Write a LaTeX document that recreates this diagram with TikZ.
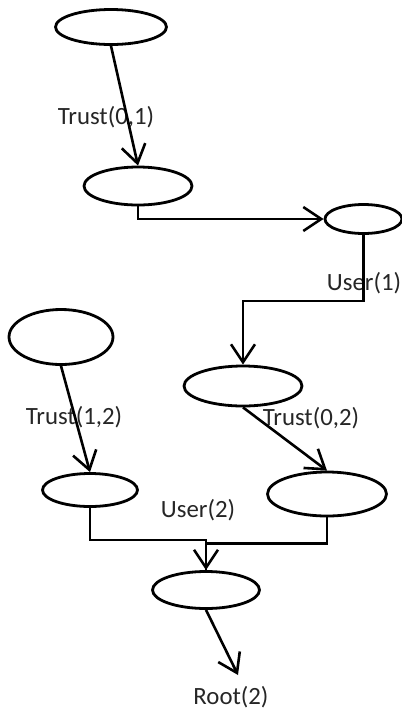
\documentclass[tikz,border=0pt]{standalone}
\usepackage{fontspec}
\setmainfont{Carlito}
\usetikzlibrary{arrows.meta,positioning,calc,shapes.geometric}

\begin{document}
\begin{tikzpicture}[
    x=0.5pt, y=-0.5pt,
    oval/.style={
        draw,
        ellipse,
        inner sep=0pt,
        line width=1.4pt
    },
    note/.style={font=\fontsize{12.4}{14}\selectfont, text=black!85, inner sep=0pt},
    arrow/.style={-{Straight Barb[length=9pt,width=12pt]}, line width=1.3pt}
]
\useasboundingbox (0,0) rectangle (402,709);

% states
\node[oval, minimum width=55.5pt, minimum height=17.5pt] (top) at (111,27) {};
\node[oval, minimum width=54pt, minimum height=19pt] (trust) at (138,186) {};
\node[oval, minimum width=38.5pt, minimum height=14.5pt] (user) at (363.5,219) {};
\node[oval, minimum width=52pt, minimum height=27.5pt] (left) at (61,337) {};
\node[oval, minimum width=59pt, minimum height=20pt] (mid) at (243,386) {};
\node[oval, minimum width=47.5pt, minimum height=16.5pt] (lleft) at (90,490) {};
\node[oval, minimum width=59.5pt, minimum height=22pt] (lright) at (327,494) {};
\node[oval, minimum width=53.5pt, minimum height=18.5pt] (root) at (206,590) {};
\coordinate (out) at (238,675);

% edge labels
\node[note] (l01) at (106,117) {Trust(0,1)};
\node[note] (lu1) at (364,283) {User(1)};
\node[note] (l12) at (74,417) {Trust(1,2)};
\node[note] (l02) at (311,418) {Trust(0,2)};
\node[note] (lu2) at (198,510) {User(2)};
\node[note] (lr2) at (231,697) {Root(2)};

% edges
\draw[arrow] (top.south) -- (trust.north);
\draw[arrow] (trust.south) |- (user.west);
\draw[arrow] (user.south) -- ++(0,66) -| (mid.north);
\draw[arrow] (left.south) -- (lleft.north);
\draw[arrow] (mid.south) -- (lright.north);
\draw[arrow] (lleft.south) -- ++(0,32) -| (root.north);
\draw[line width=1.3pt] (lright.south) -- ++(0,26) -| (root.north);
\draw[arrow] (root.south) -- (out);
\end{tikzpicture}
\end{document}
